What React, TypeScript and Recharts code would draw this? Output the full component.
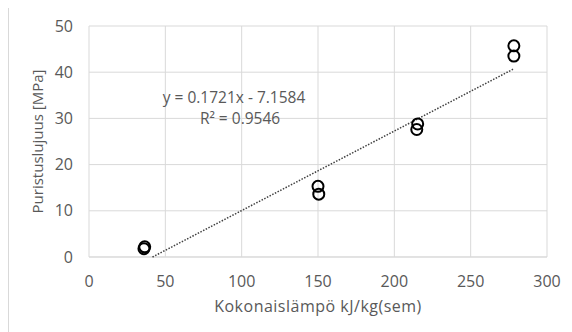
import React from "react";
import {
  ScatterChart,
  Scatter,
  XAxis,
  YAxis,
  CartesianGrid,
  ReferenceDot,
} from "recharts";

// ---------------------------------------------------------------------------
// Data
// ---------------------------------------------------------------------------

const heatValues = [36, 36.5, 150, 150.5, 215.3, 214.7, 278.3, 278.3];
const strengthValues = [1.8, 2.2, 15.3, 13.6, 28.8, 27.6, 45.7, 43.5];

const xTicks = [0, 50, 100, 150, 200, 250, 300];
const yTicks = [0, 10, 20, 30, 40, 50];

const trendSlope = 0.1721;
const trendIntercept = -7.1584;
const trendR2 = 0.9546;

const xLabel = "Kokonaislämpö kJ/kg(sem)";
const yLabel = "Puristuslujuus [MPa]";

// ---------------------------------------------------------------------------
// Derived series
// ---------------------------------------------------------------------------

const points = heatValues.map((x, i) => ({ x, y: strengthValues[i] }));

// Linear trendline across the measured range, clipped at y = 0
const xMin = Math.max(Math.min(...heatValues), -trendIntercept / trendSlope);
const xMax = Math.max(...heatValues);
const trendPoints = [xMin, xMax].map((x) => ({
  x,
  y: trendSlope * x + trendIntercept,
}));

const FONT = "'Open Sans', sans-serif";
const TEXT = "#595959";
const GRID = "#d9d9d9";

function OpenCircle(props: any) {
  const { cx, cy } = props;
  if (cx == null || cy == null) return null;
  return <circle cx={cx} cy={cy} r={5.5} fill="none" stroke="#000" strokeWidth={2} />;
}

function EquationLabel(props: any) {
  const { viewBox } = props;
  const x = viewBox.x;
  const y = viewBox.y;
  return (
    <text x={x} y={y} textAnchor="middle" fill={TEXT} fontFamily={FONT} fontSize={15.5}>
      <tspan x={x} dy={0}>
        {`y = ${trendSlope}x - ${Math.abs(trendIntercept)}`}
      </tspan>
      <tspan x={x + 6} dy={21}>
        R² = {trendR2}
      </tspan>
    </text>
  );
}

export default function App() {
  return (
    <div
      style={{
        width: 563,
        height: 325,
        marginTop: -1,
        borderTop: `1px solid ${GRID}`,
        borderLeft: `1px solid ${GRID}`,
        overflow: "hidden",
        background: "#fff",
      }}
    >
      <ScatterChart
        width={563}
        height={324}
        margin={{ top: 18, right: 25, left: 0, bottom: 0 }}
        style={{ fontFamily: FONT }}
      >
        <CartesianGrid stroke={GRID} strokeWidth={1} />
        <XAxis
          type="number"
          dataKey="x"
          domain={[0, 300]}
          ticks={xTicks}
          height={75}
          axisLine={{ stroke: GRID }}
          tickLine={false}
          tickSize={0}
          tickMargin={19}
          tick={{ fill: TEXT, fontSize: 16, fontFamily: FONT }}
          label={{
            value: xLabel,
            position: "insideBottom",
            offset: 20,
            fill: TEXT,
            fontSize: 16,
            fontFamily: FONT,
            letterSpacing: 0.5,
          }}
        />
        <YAxis
          type="number"
          dataKey="y"
          domain={[0, 50]}
          ticks={yTicks}
          width={80}
          axisLine={false}
          tickLine={false}
          tickSize={0}
          tickMargin={16}
          tick={{ fill: TEXT, fontSize: 16, fontFamily: FONT }}
          label={{
            value: yLabel,
            angle: -90,
            position: "insideLeft",
            offset: 29,
            fill: TEXT,
            fontSize: 15,
            fontFamily: FONT,
            style: { textAnchor: "middle" },
          }}
        />
        <Scatter
          data={trendPoints}
          line={{ stroke: "#404040", strokeWidth: 1.5, strokeDasharray: "1.5 1.5" }}
          shape={() => null}
          isAnimationActive={false}
        />
        <Scatter data={points} shape={OpenCircle} isAnimationActive={false} />
        <ReferenceDot
          x={95}
          y={33.4}
          r={0}
          fill="none"
          stroke="none"
          label={<EquationLabel />}
        />
      </ScatterChart>
    </div>
  );
}
